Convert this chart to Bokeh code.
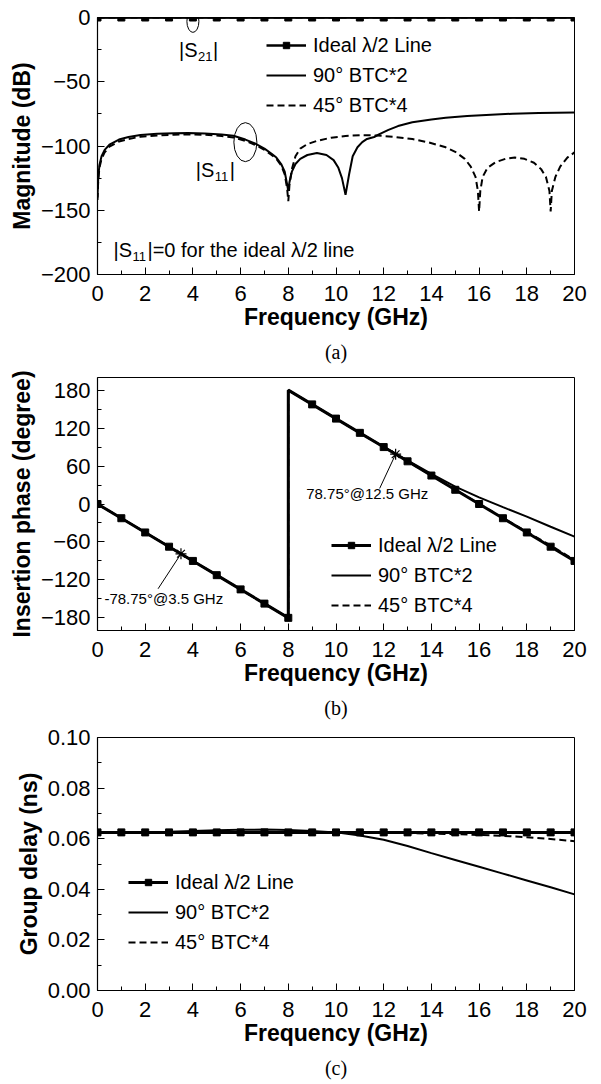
from bokeh.plotting import figure
from bokeh.layouts import column
from bokeh.models import (FixedTicker, Legend, LegendItem, Label, NumeralTickFormatter, Range1d, Title)
from bokeh.embed import file_html
from bokeh.resources import INLINE

FONT = "Liberation Sans"
SERIF = "Liberation Serif"

# ---------------- data ----------------
freq_int = [0, 1, 2, 3, 4, 5, 6, 7, 8, 9, 10, 11, 12, 13, 14, 15, 16, 17, 18, 19, 20]

# (a) |S21| (dB)
s21_ideal = [0, 0, 0, 0, 0, 0, 0, 0, 0, 0, 0, 0, 0, 0, 0, 0, 0, 0, 0, 0, 0]
s21_btc2 = [0, 0, 0, 0, 0, 0, 0, 0, 0, 0, 0, 0, 0, 0, 0, 0, 0, 0, 0, 0, 0]
s21_btc4 = [0, 0, 0, 0, 0, 0, 0, 0, 0, 0, 0, 0, 0, 0, 0, 0, 0, 0, 0, 0, 0]

# (a) |S11| (dB)
f_s11_btc2 = [0, 0.03, 0.08, 0.17, 0.3, 0.5, 0.9, 1.3, 1.8, 2.5, 3.2, 3.8, 4.5, 5.2, 5.7, 6.2,
              6.6, 7.0, 7.3, 7.5, 7.7, 7.85, 7.95, 8.0, 8.05, 8.15, 8.3, 8.5, 8.8, 9.2, 9.6,
              9.9, 10.1, 10.25, 10.4, 10.55, 10.7, 10.9, 11.1, 11.3, 11.6, 11.8, 12.2, 12.6,
              13.2, 14.0, 14.6, 15.5, 16.5, 17.4, 18.5, 20.0]
s11_btc2 = [-140, -125, -115, -108, -103, -99, -95, -93, -91.5, -90.5, -90, -89.8, -90.2, -91,
            -92, -95, -98, -102, -106, -109, -114, -120, -130, -135, -128, -120, -114, -110,
            -107, -105.5, -107, -111, -117, -125, -138, -122, -108, -101, -97, -94.5, -93, -91,
            -87.5, -84.5, -81.5, -79.3, -78, -76.6, -75.6, -74.9, -74.3, -74]

f_s11_btc4 = [0, 0.03, 0.08, 0.17, 0.3, 0.5, 0.9, 1.3, 1.8, 2.5, 3.2, 3.8, 4.5, 5.2, 5.7, 6.2,
              6.6, 7.0, 7.3, 7.5, 7.7, 7.85, 7.95, 8.0, 8.05, 8.15, 8.3, 8.5, 8.8, 9.2, 9.8,
              10.4, 11.0, 11.7, 12.4, 13.2, 13.9, 14.6, 15.0, 15.4, 15.65, 15.85, 15.95, 16.0,
              16.05, 16.15, 16.35, 16.7, 17.1, 17.5, 17.9, 18.3, 18.6, 18.8, 18.95, 19.0,
              19.05, 19.2, 19.4, 19.7, 20.0]
s11_btc4 = [-142, -127, -117, -110, -105, -100.5, -96.5, -94.5, -92.8, -91.8, -91.2, -91,
            -91.3, -92.2, -93.3, -96, -99, -103, -107, -110, -115, -122, -133, -143, -130,
            -118, -108, -102, -98.5, -96, -93.5, -92.2, -91.6, -91.8, -92.8, -94.6, -97.3,
            -101, -104.5, -110, -116, -124, -135, -151, -135, -124, -117, -112.5, -110, -109,
            -110, -113, -118, -124, -135, -151, -135, -124, -116, -109, -105]

# (b) insertion phase (degree)
f_phase = [0, 1, 2, 3, 4, 5, 6, 7, 8, 8, 9, 10, 11, 12, 13, 14, 15, 16, 17, 18, 19, 20]
phase_ideal = [0, -22.5, -45, -67.5, -90, -112.5, -135, -157.5, -180, 180, 157.5, 135, 112.5,
               90, 67.5, 45, 22.5, 0, -22.5, -45, -67.5, -90]
phase_btc2 = [0, -22.5, -45, -67.5, -90, -112.5, -135, -157.5, -180, 180, 157.5, 135, 112.6,
              90.5, 68.8, 47.5, 27.5, 10.5, -5, -20, -36, -51.5]
phase_btc4 = [0, -22.5, -45, -67.5, -90, -112.5, -135, -157.5, -180, 180, 157.5, 135, 112.5,
              90, 67.5, 45, 22.6, 0.3, -22, -44, -65.5, -88.5]
f_marker_phase = [0, 1, 2, 3, 4, 5, 6, 7, 8, 9, 10, 11, 12, 13, 14, 15, 16, 17, 18, 19, 20]
marker_phase = [0, -22.5, -45, -67.5, -90, -112.5, -135, -157.5, -180, 157.5, 135, 112.5,
                90, 67.5, 45, 22.5, 0, -22.5, -45, -67.5, -90]
star_f = [3.5, 12.5]
star_phase = [-78.75, 78.75]

# (c) group delay (ns)
gd_ideal = [0.0625, 0.0625, 0.0625, 0.0625, 0.0625, 0.0625, 0.0625, 0.0625, 0.0625, 0.0625,
            0.0625, 0.0625, 0.0625, 0.0625, 0.0625, 0.0625, 0.0625, 0.0625, 0.0625, 0.0625, 0.0625]
gd_btc2 = [0.0623, 0.0624, 0.0625, 0.0627, 0.0630, 0.0633, 0.0635, 0.0636, 0.0634, 0.0630,
           0.0625, 0.0613, 0.0596, 0.0571, 0.0543, 0.0516, 0.0489, 0.0462, 0.0435, 0.0408, 0.0380]
gd_btc4 = [0.0624, 0.0624, 0.0625, 0.0625, 0.0626, 0.0626, 0.0626, 0.0626, 0.0626, 0.0626,
           0.0625, 0.0625, 0.0624, 0.0622, 0.0620, 0.0618, 0.0615, 0.0611, 0.0606, 0.0599, 0.0590]

x_ticks = [0, 2, 4, 6, 8, 10, 12, 14, 16, 18, 20]
x_minor = [1, 3, 5, 7, 9, 11, 13, 15, 17, 19]

LEG = ["Ideal \u03bb/2 Line", "90\u00b0 BTC*2", "45\u00b0 BTC*4"]

FIG_W = 600


def make_fig(height, top, yr, left, frame_w, yticks, yminor, ylabel, caption):
    p = figure(width=FIG_W, height=height, x_range=Range1d(0, 20), y_range=Range1d(*yr),
               output_backend="svg", toolbar_location=None,
               min_border_left=left, min_border_right=FIG_W - left - frame_w,
               min_border_top=top, min_border_bottom=height - top - 260)
    p.grid.visible = False
    p.outline_line_color = "black"
    p.outline_line_width = 1
    p.background_fill_color = "white"
    p.border_fill_color = "white"
    p.xaxis.ticker = FixedTicker(ticks=x_ticks, minor_ticks=x_minor)
    p.yaxis.ticker = FixedTicker(ticks=yticks, minor_ticks=yminor)
    for ax in (p.xaxis[0], p.yaxis[0]):
        ax.axis_line_color = "black"
        ax.axis_line_width = 1.2
        ax.major_tick_in = 7
        ax.major_tick_out = 0
        ax.minor_tick_in = 4
        ax.minor_tick_out = 0
        ax.major_tick_line_color = "black"
        ax.minor_tick_line_color = "black"
        ax.major_label_text_font = FONT
        ax.major_label_text_font_size = "22px"
        ax.major_label_text_color = "black"
        ax.axis_label_text_font = FONT
        ax.axis_label_text_font_size = "23px"
        ax.axis_label_text_font_style = "bold"
        ax.axis_label_text_color = "black"
        ax.axis_label_standoff = 0
    p.xaxis.major_label_standoff = 11
    p.xaxis.axis_label_standoff = 0
    p.yaxis.major_label_standoff = 7
    p.yaxis.axis_label_standoff = 3
    p.xaxis.axis_label = "Frequency (GHz)"
    p.yaxis.axis_label = ylabel
    p.add_layout(Title(text=caption, align="center", text_font=SERIF, text_font_size="20px",
                       text_font_style="normal", text_color="black", standoff=12), "below")
    return p


def add_legend(p, items, loc):
    leg = Legend(items=items, location=loc, orientation="vertical",
                 label_text_font=FONT, label_text_font_size="20px", label_text_color="black",
                 glyph_width=40, glyph_height=16, label_height=30, label_standoff=7,
                 spacing=0, padding=0, margin=0, border_line_alpha=0, background_fill_alpha=0)
    p.add_layout(leg)


def add_text(p, x, y, text, size="20px", x_offset=0, y_offset=0):
    p.add_layout(Label(x=x, y=y, text=text, text_font=FONT, text_font_size=size,
                       text_align="left", text_baseline="middle", text_color="black",
                       x_offset=x_offset, y_offset=y_offset))


# ---------------- (a) ----------------
pa = make_fig(368, 17, (-200, 0), 96, 480, [-200, -150, -100, -50, 0],
              [-175, -125, -75, -25], "Magnitude (dB)", "(a)")
a_l1 = pa.line(freq_int, s21_ideal, line_color="black", line_width=2.5)
a_m1 = pa.scatter(freq_int, s21_ideal, marker="square", size=7, color="black")
pa.line(freq_int, s21_btc2, line_color="black", line_width=2)
pa.line(freq_int, s21_btc4, line_color="black", line_width=2, line_dash="7 4")
a_l2 = pa.line(f_s11_btc2, s11_btc2, line_color="black", line_width=2)
a_l3 = pa.line(f_s11_btc4, s11_btc4, line_color="black", line_width=2, line_dash="7 4")
pa.ellipse(x=[4.0, 6.2], y=[-3, -97], width=[12, 23], height=[22, 39],
           width_units="screen", height_units="screen",
           fill_alpha=0, line_color="black", line_width=1)
add_text(pa, 3.42, -25.5, "|S")
add_text(pa, 3.42, -25.5, "21", size="13px", x_offset=19, y_offset=-6)
add_text(pa, 3.42, -25.5, "|", x_offset=34)
add_text(pa, 4.12, -119, "|S")
add_text(pa, 4.12, -119, "11", size="13px", x_offset=19, y_offset=-6)
add_text(pa, 4.12, -119, "|", x_offset=34)
add_text(pa, 0.67, -181, "|S")
add_text(pa, 0.67, -181, "11", size="13px", x_offset=19, y_offset=-6)
add_text(pa, 0.67, -181, "|=0 for the ideal \u03bb/2 line", x_offset=34)
add_legend(pa, [LegendItem(label=LEG[0], renderers=[a_l1, a_m1]),
                LegendItem(label=LEG[1], renderers=[a_l2]),
                LegendItem(label=LEG[2], renderers=[a_l3])], (169, 154))

# ---------------- (b) ----------------
pb = make_fig(356, 9, (-200, 200), 96, 480, [-180, -120, -60, 0, 60, 120, 180],
              [-150, -90, -30, 30, 90, 150], "Insertion phase (degree)", "(b)")
b_l2 = pb.line(f_phase, phase_btc2, line_color="black", line_width=2)
b_l3 = pb.line(f_phase, phase_btc4, line_color="black", line_width=2, line_dash="7 4")
b_l1 = pb.line(f_phase, phase_ideal, line_color="black", line_width=3)
b_m1 = pb.scatter(f_marker_phase, marker_phase, marker="square", size=7, color="black")
pb.scatter(star_f, star_phase, marker="asterisk", size=11, line_color="black", line_width=1.2)
pb.segment(x0=star_f, y0=star_phase, x1=[2.54, 11.83], y1=[-134, 24.6],
           line_color="black", line_width=1)
add_text(pb, 0.29, -149, "-78.75\u00b0@3.5 GHz", size="15px")
add_text(pb, 8.75, 17, "78.75\u00b0@12.5 GHz", size="15px")
add_legend(pb, [LegendItem(label=LEG[0], renderers=[b_l1, b_m1]),
                LegendItem(label=LEG[1], renderers=[b_l2]),
                LegendItem(label=LEG[2], renderers=[b_l3])], (234, 10))

# ---------------- (c) ----------------
pc = make_fig(360, 13, (0, 0.1), 97, 477, [0, 0.02, 0.04, 0.06, 0.08, 0.10],
              [0.01, 0.03, 0.05, 0.07, 0.09], "Group delay (ns)", "(c)")
pc.yaxis.formatter = NumeralTickFormatter(format="0.00")
c_l2 = pc.line(freq_int, gd_btc2, line_color="black", line_width=2)
c_l3 = pc.line(freq_int, gd_btc4, line_color="black", line_width=2, line_dash="7 4")
c_l1 = pc.line(freq_int, gd_ideal, line_color="black", line_width=3)
c_m1 = pc.scatter(freq_int, gd_ideal, marker="square", size=7, color="black")
add_legend(pc, [LegendItem(label=LEG[0], renderers=[c_l1, c_m1]),
                LegendItem(label=LEG[1], renderers=[c_l2]),
                LegendItem(label=LEG[2], renderers=[c_l3])], (31, 33))

layout = column(pa, pb, pc, spacing=0)
open("out.html", "w").write(file_html(layout, INLINE))
